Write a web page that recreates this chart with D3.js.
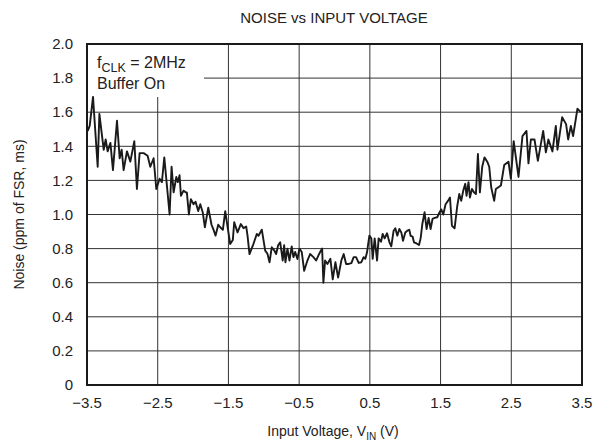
<!DOCTYPE html>
<html><head><meta charset="utf-8">
<script src="https://cdn.jsdelivr.net/npm/d3@7"></script>
<style>body{margin:0;background:#fff}</style>
</head><body>
<svg id="c" width="606" height="447"></svg>
<script>
const titleText = "NOISE vs INPUT VOLTAGE";
const xTicks = [-3.5, -2.5, -1.5, -0.5, 0.5, 1.5, 2.5, 3.5];
const yTicks = [0, 0.2, 0.4, 0.6, 0.8, 1.0, 1.2, 1.4, 1.6, 1.8, 2.0];
const voltage = [-3.490,-3.462,-3.415,-3.349,-3.325,-3.264,-3.236,-3.208,-3.169,-3.133,-3.076,-3.038,-3.010,-2.982,-2.935,-2.887,-2.831,-2.794,-2.756,-2.699,-2.643,-2.605,-2.558,-2.520,-2.473,-2.441,-2.407,-2.332,-2.304,-2.275,-2.237,-2.215,-2.191,-2.172,-2.134,-2.106,-2.088,-2.059,-2.031,-1.993,-1.965,-1.927,-1.898,-1.862,-1.833,-1.785,-1.739,-1.710,-1.682,-1.644,-1.616,-1.579,-1.545,-1.513,-1.475,-1.438,-1.418,-1.371,-1.325,-1.287,-1.249,-1.230,-1.202,-1.155,-1.099,-1.075,-1.028,-0.980,-0.948,-0.919,-0.887,-0.853,-0.825,-0.797,-0.768,-0.732,-0.712,-0.694,-0.665,-0.637,-0.605,-0.581,-0.556,-0.524,-0.496,-0.463,-0.429,-0.383,-0.345,-0.298,-0.260,-0.227,-0.203,-0.175,-0.157,-0.133,-0.100,-0.058,-0.025,0.013,0.051,0.097,0.130,0.164,0.201,0.239,0.271,0.305,0.342,0.380,0.412,0.436,0.460,0.493,0.521,0.540,0.568,0.602,0.624,0.658,0.681,0.709,0.743,0.775,0.803,0.836,0.860,0.888,0.917,0.945,0.969,1.001,1.030,1.058,1.076,1.105,1.124,1.161,1.195,1.218,1.242,1.274,1.302,1.331,1.359,1.387,1.415,1.453,1.482,1.510,1.538,1.571,1.605,1.633,1.661,1.698,1.736,1.764,1.792,1.821,1.849,1.867,1.895,1.915,1.944,1.972,2.000,2.028,2.056,2.089,2.121,2.160,2.188,2.216,2.258,2.282,2.353,2.400,2.460,2.494,2.534,2.602,2.658,2.715,2.743,2.777,2.828,2.876,2.951,2.989,3.025,3.082,3.130,3.153,3.219,3.275,3.304,3.342,3.374,3.435,3.483];
const noise = [1.49,1.52,1.69,1.28,1.59,1.38,1.44,1.37,1.42,1.26,1.55,1.33,1.38,1.26,1.37,1.31,1.43,1.15,1.36,1.36,1.345,1.28,1.33,1.15,1.21,1.19,1.335,1.00,1.28,1.13,1.22,1.19,1.23,1.11,1.14,1.13,1.13,1.00,1.09,1.06,1.075,1.02,1.06,1.01,0.925,1.04,0.94,0.91,0.876,0.94,0.925,0.91,1.02,0.93,0.827,0.85,0.955,0.895,0.944,0.92,0.93,0.876,0.768,0.817,0.886,0.875,0.911,0.788,0.77,0.72,0.808,0.79,0.768,0.82,0.837,0.73,0.82,0.72,0.80,0.73,0.813,0.75,0.78,0.739,0.80,0.78,0.67,0.73,0.768,0.75,0.73,0.76,0.78,0.80,0.60,0.73,0.71,0.74,0.62,0.72,0.63,0.73,0.768,0.71,0.71,0.715,0.75,0.75,0.716,0.72,0.75,0.74,0.778,0.876,0.86,0.74,0.86,0.73,0.86,0.84,0.886,0.86,0.89,0.84,0.813,0.905,0.919,0.876,0.915,0.895,0.846,0.895,0.905,0.91,0.875,0.87,0.837,0.83,0.821,0.86,0.944,1.013,0.915,0.98,0.915,0.975,0.98,0.984,1.01,1.03,1.00,1.06,1.08,1.10,0.934,0.919,1.05,1.12,1.08,1.14,1.18,1.11,1.19,1.10,1.15,1.13,1.12,1.355,1.13,1.28,1.335,1.31,1.28,1.16,1.08,1.15,1.17,1.29,1.31,1.21,1.43,1.22,1.46,1.49,1.30,1.44,1.44,1.315,1.49,1.365,1.44,1.37,1.52,1.38,1.57,1.53,1.44,1.52,1.46,1.62,1.60];
const legendLines = ["Buffer On"];

const font = "'Liberation Sans', Arial, Helvetica, sans-serif";
const svg = d3.select("#c").style("font-family", font);
const m = {l: 87, r: 582, t: 44, b: 385};
const x = d3.scaleLinear().domain([-3.5, 3.5]).range([m.l, m.r]);
const y = d3.scaleLinear().domain([0, 2.0]).range([m.b, m.t]);
const fmt = d3.format(".1f");
const ink = "#222";

// grid
const grid = svg.append("g").attr("stroke", "#333").attr("stroke-width", 1);
grid.selectAll("line.v").data(xTicks.slice(1, -1)).join("line")
  .attr("x1", d => x(d)).attr("x2", d => x(d)).attr("y1", m.t).attr("y2", m.b);
grid.selectAll("line.h").data(yTicks.slice(1, -1)).join("line")
  .attr("x1", m.l).attr("x2", m.r).attr("y1", d => y(d)).attr("y2", d => y(d));

// legend background box
svg.append("rect").attr("x", m.l + 1).attr("y", m.t + 1)
  .attr("width", 116).attr("height", 52).attr("fill", "#fff");

// data line
const pts = voltage.map((v, i) => [v, noise[i]]);
svg.append("path").datum(pts)
  .attr("fill", "none").attr("stroke", "#1a1a1a").attr("stroke-width", 1.9)
  .attr("stroke-linejoin", "round")
  .attr("d", d3.line().x(d => x(d[0])).y(d => y(d[1])));

// frame
svg.append("rect").attr("x", m.l).attr("y", m.t).attr("width", m.r - m.l).attr("height", m.b - m.t)
  .attr("fill", "none").attr("stroke", "#1a1a1a").attr("stroke-width", 2);

// y tick labels
svg.append("g").selectAll("text").data(yTicks).join("text")
  .attr("x", 73).attr("y", d => y(d)).attr("dy", "0.35em")
  .attr("text-anchor", "end").attr("font-size", 15).attr("fill", ink)
  .text(d => d === 0 ? "0" : fmt(d));

// x tick labels
svg.append("g").selectAll("text").data(xTicks).join("text")
  .attr("x", d => x(d)).attr("y", 408)
  .attr("text-anchor", "middle").attr("font-size", 15).attr("fill", ink)
  .text(d => fmt(d));

// title
svg.append("text").attr("x", 334).attr("y", 23).attr("text-anchor", "middle")
  .attr("font-size", 15).attr("fill", ink).text(titleText);

// x axis title
const xt = svg.append("text").attr("x", 333).attr("y", 436).attr("text-anchor", "middle")
  .attr("font-size", 14).attr("fill", ink);
xt.append("tspan").text("Input Voltage, V");
xt.append("tspan").attr("font-size", 10).attr("dy", 4).text("IN");
xt.append("tspan").attr("dy", -4).text(" (V)");

// y axis title
svg.append("text").attr("transform", "translate(24," + ((m.t + m.b) / 2) + ") rotate(-90)")
  .attr("text-anchor", "middle").attr("font-size", 14).attr("fill", ink)
  .text("Noise (ppm of FSR, ms)");

// legend text
const lg = svg.append("text").attr("x", 97).attr("y", 68).attr("font-size", 16).attr("fill", ink);
lg.append("tspan").text("f");
lg.append("tspan").attr("font-size", 12.5).attr("dy", 4).text("CLK");
lg.append("tspan").attr("dy", -4).text(" = 2MHz");
svg.append("text").attr("x", 97).attr("y", 89).attr("font-size", 16).attr("fill", ink).text(legendLines[0]);
</script>
</body></html>
